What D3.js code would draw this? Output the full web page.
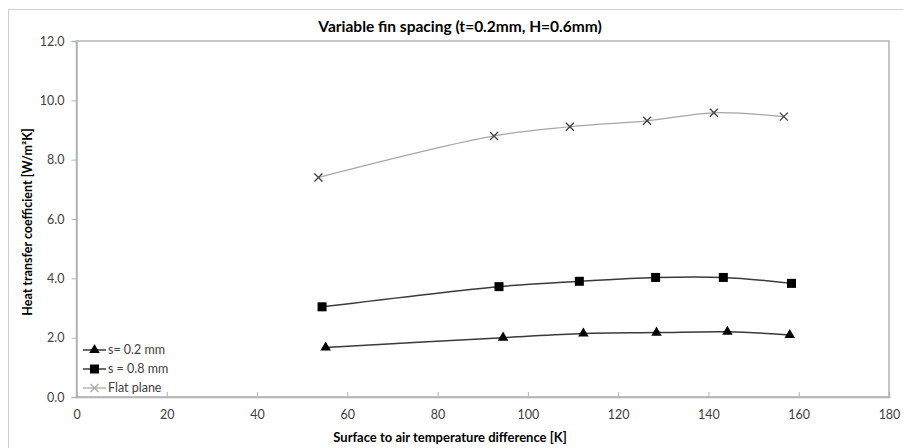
<!DOCTYPE html>
<html><head><meta charset="utf-8">
<script src="https://cdn.jsdelivr.net/npm/d3@7"></script>
<style>body{margin:0;background:#fff;}svg{display:block;font-family:Lato,"Open Sans",sans-serif;}</style>
</head><body><svg id="c" width="903" height="448"></svg>
<script>
const title = "Variable fin spacing (t=0.2mm, H=0.6mm)";
const xLabel = "Surface to air temperature difference [K]";
const yLabel = "Heat transfer coefficient [W/m\u00B2K]";
const xTicks = [0,20,40,60,80,100,120,140,160,180];
const yTicks = [0,2,4,6,8,10,12];
const seriesNames = ["s= 0.2 mm","s = 0.8 mm","Flat plane"];
const s02X = [55.2, 94.5, 112.3, 128.5, 144.2, 158.0];
const s02Y = [1.67, 2.00, 2.14, 2.17, 2.20, 2.09];
const s08X = [54.4, 93.6, 111.4, 128.3, 143.3, 158.4];
const s08Y = [3.04, 3.72, 3.90, 4.03, 4.03, 3.83];
const flatX = [53.6, 92.5, 109.3, 126.4, 141.2, 156.7];
const flatY = [7.40, 8.80, 9.11, 9.31, 9.58, 9.45];

const svg = d3.select("#c");
const L=76.5, R=889, T=41, B=397;
const x = d3.scaleLinear().domain([0,180]).range([L,R]);
const y = d3.scaleLinear().domain([0,12]).range([B,T]);

// outer chart border
svg.append("rect").attr("x",8.5).attr("y",9.5).attr("width",920).attr("height",460)
  .attr("fill","none").attr("stroke","#d0d0d0").attr("stroke-width",1);

// plot border
svg.append("rect").attr("x",L).attr("y",T).attr("width",R-L).attr("height",B-T)
  .attr("fill","none").attr("stroke","#b3b3b3").attr("stroke-width",1.5);

const txt="#404040";
const yAxis = svg.append("g").attr("transform",`translate(${L},0)`)
  .call(d3.axisLeft(y).tickValues(yTicks).tickSize(5).tickPadding(7).tickFormat(d3.format(".1f")));
const xAxis = svg.append("g").attr("transform",`translate(0,${B})`)
  .call(d3.axisTop(x).tickValues(xTicks).tickSize(5).tickFormat(d3.format("d")));
[yAxis,xAxis].forEach(g=>{
  g.select(".domain").attr("stroke","#b3b3b3").attr("stroke-width",1.5);
  g.selectAll(".tick line").attr("stroke","#b3b3b3");
  g.selectAll("text").attr("fill",txt).style("font-size","12.5px").style("font-family","Lato");
});
yAxis.selectAll("text").attr("x",-12);
xAxis.selectAll("text").attr("y",18).attr("dy","0.32em");

svg.append("text").attr("x",460).attr("y",32).attr("text-anchor","middle")
  .style("font-size","15.5px").style("font-weight","bold").attr("fill","#000").text(title);
svg.append("text").attr("x",450).attr("y",442).attr("text-anchor","middle")
  .style("font-size","13px").style("font-weight","bold").attr("fill","#000").text(xLabel);
svg.append("text").attr("transform","translate(32,222) rotate(-90)").attr("text-anchor","middle")
  .style("font-size","12.5px").style("font-weight","bold").attr("fill","#000").text(yLabel);

const line = d3.line().x(d=>x(d[0])).y(d=>y(d[1])).curve(d3.curveCatmullRom.alpha(0.5));
const zip=(a,b)=>a.map((v,i)=>[v,b[i]]);
const data=[zip(s02X,s02Y),zip(s08X,s08Y),zip(flatX,flatY)];
const lineCol=["#3a3a3a","#3a3a3a","#a6a6a6"];
const lineW=[1.5,1.5,1.2];

function marker(g,type,cx,cy){
  if(type===0){
    g.append("path").attr("d",d3.symbol(d3.symbolTriangle,48)()).attr("transform",`translate(${cx},${cy})`).attr("fill","#000");
  } else if(type===1){
    g.append("rect").attr("x",cx-4.5).attr("y",cy-4.5).attr("width",9).attr("height",9).attr("fill","#000");
  } else {
    g.append("path").attr("d",`M${cx-4},${cy-4}L${cx+4},${cy+4}M${cx-4},${cy+4}L${cx+4},${cy-4}`)
      .attr("stroke","#404040").attr("stroke-width",1.3).attr("fill","none");
  }
}

data.forEach((d,i)=>{
  svg.append("path").datum(d).attr("d",line).attr("fill","none").attr("stroke",lineCol[i]).attr("stroke-width",lineW[i]);
  const g=svg.append("g");
  d.forEach(p=>marker(g,i,x(p[0]),y(p[1])));
});

// legend
const legY=[350,369,388];
seriesNames.forEach((n,i)=>{
  const g=svg.append("g");
  g.append("line").attr("x1",83).attr("x2",106).attr("y1",legY[i]).attr("y2",legY[i]).attr("stroke",lineCol[i]).attr("stroke-width",lineW[i]);
  if(i===2){
    g.append("path").attr("d",`M${94.5-4},${legY[i]-4}L${94.5+4},${legY[i]+4}M${94.5-4},${legY[i]+4}L${94.5+4},${legY[i]-4}`)
      .attr("stroke","#a6a6a6").attr("stroke-width",1.2);
  } else marker(g,i,94.5,legY[i]);
  g.append("text").attr("x",108).attr("y",legY[i]).attr("dy","0.35em").style("font-size","12.5px").attr("fill",txt).text(n);
});
</script></body></html>
